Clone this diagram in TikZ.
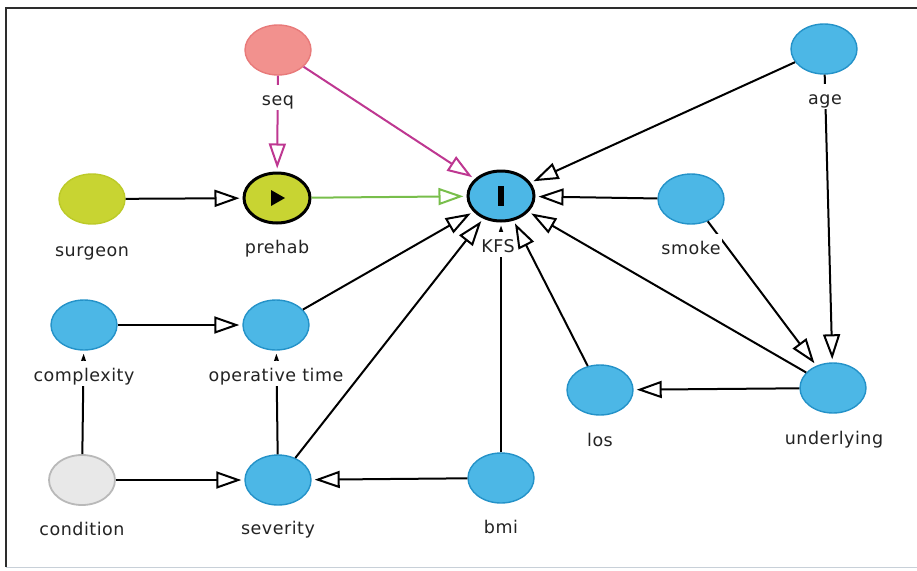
\documentclass[tikz,border=0pt]{standalone}
\usepackage{fontspec}
\setmainfont{DejaVu Sans}[LetterSpace=3]
\usetikzlibrary{shapes.geometric,arrows.meta}
\definecolor{nodeblue}{RGB}{76,183,230}
\definecolor{blueedge}{RGB}{36,146,200}
\definecolor{seqpink}{RGB}{242,145,142}
\definecolor{seqedge}{RGB}{232,122,122}
\definecolor{limefill}{RGB}{200,212,50}
\definecolor{limeedge}{RGB}{188,202,40}
\definecolor{condgray}{RGB}{232,232,232}
\definecolor{condedge}{RGB}{185,185,185}
\definecolor{magentaedge}{RGB}{190,55,145}
\definecolor{greenedge}{RGB}{120,190,75}
\definecolor{labelgray}{RGB}{35,35,35}
\definecolor{framedark}{RGB}{45,45,45}
\definecolor{framelight}{RGB}{200,208,216}
\tikzset{
  var/.style={ellipse, minimum width=66pt, minimum height=50pt, inner sep=0pt,
    draw=blueedge, fill=nodeblue, line width=1.4pt},
  seqvar/.style={var, draw=seqedge, fill=seqpink},
  limevar/.style={var, draw=limeedge, fill=limefill},
  condvar/.style={var, draw=condedge, fill=condgray, line width=1.8pt},
  keyvar/.style={line width=3pt, draw=black},
  lbl/.style={anchor=base, fill=white, inner xsep=1pt, inner ysep=1pt,
    text height=19pt, text depth=4pt, font=\fontsize{17.5}{20}\selectfont, text=labelgray},
  arc/.style={line width=2pt, draw=black,
    -{Triangle[fill=white, length=25pt, width=17pt, line width=2pt]}, shorten >=3pt},
}
\begin{document}
\begin{tikzpicture}[x=1pt, y=-1pt]
\useasboundingbox (0,0) rectangle (917,570);
% frame
\draw[line width=1.5pt, framedark] (6,567) -- (6,8) -- (917,8);
\draw[line width=1pt, framelight] (6,567) -- (917,567);

% variables
\node[seqvar] (seq) at (278,50) {};
\node[var] (age) at (824,49) {};
\node[limevar] (surgeon) at (92,199) {};
\node[limevar, keyvar] (prehab) at (277,198) {};
\node[var, keyvar] (kfs) at (501,196) {};
\node[var] (smoke) at (691,199) {};
\node[var] (complexity) at (84,325) {};
\node[var] (optime) at (276,325) {};
\node[var] (los) at (600,390) {};
\node[var] (underlying) at (833,388) {};
\node[condvar] (condition) at (82,480) {};
\node[var] (severity) at (278,480) {};
\node[var] (bmi) at (501,478) {};

% icons
\fill[black] ([shift={(-6,-8)}]prehab.center) -- ++(0,16) -- ++(14,-8) -- cycle;
\fill[black] ([shift={(-3,-10)}]kfs.center) rectangle ++(6,20);

% arcs
\draw[arc, magentaedge] (seq) -- (prehab);
\draw[arc, magentaedge] (seq) -- (kfs);
\draw[arc] (surgeon) -- (prehab);
\draw[arc, greenedge] (prehab) -- (kfs);
\draw[arc] (age) -- (kfs);
\draw[arc] (smoke) -- (kfs);
\draw[arc] (age) -- (underlying);
\draw[arc] (smoke) -- (underlying);
\draw[arc] (underlying) -- (kfs);
\draw[arc] (underlying) -- (los);
\draw[arc] (los) -- (kfs);
\draw[arc] (bmi) -- (kfs);
\draw[arc] (bmi) -- (severity);
\draw[arc] (severity) -- (kfs);
\draw[arc] (optime) -- (kfs);
\draw[arc] (severity) -- (optime);
\draw[arc] (condition) -- (complexity);
\draw[arc] (condition) -- (severity);
\draw[arc] (complexity) -- (optime);

% labels
\node[lbl] (seqL) at (278,105) {seq};
\node[lbl] (ageL) at (825,104) {age};
\node[lbl] (surgeonL) at (92,256) {surgeon};
\node[lbl] (prehabL) at (277,253) {prehab};
\node[lbl] (kfsL) at (498,252) {KFS};
\node[lbl] (smokeL) at (691,254) {smoke};
\node[lbl] (complexityL) at (84,381) {complexity};
\node[lbl] (optimeL) at (276,381) {operative time};
\node[lbl] (losL) at (600,446) {los};
\node[lbl] (underlyingL) at (834,444) {underlying};
\node[lbl] (conditionL) at (82,535) {condition};
\node[lbl] (severityL) at (278,534) {severity};
\node[lbl] (bmiL) at (501,533) {bmi};
\end{tikzpicture}
\end{document}
